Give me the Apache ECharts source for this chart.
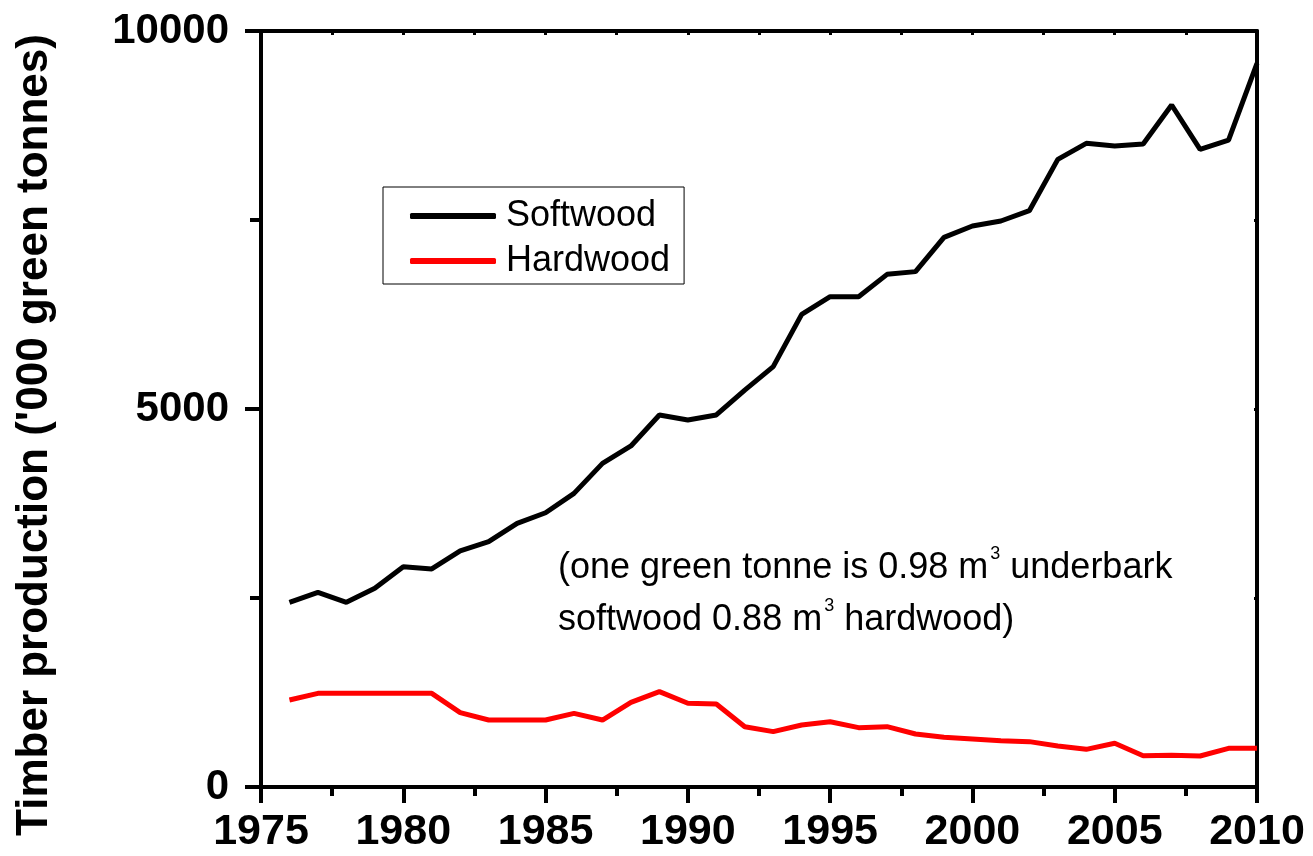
<!DOCTYPE html>
<html>
<head>
<meta charset="utf-8">
<script src="https://cdn.jsdelivr.net/npm/echarts@6/dist/echarts.min.js"></script>
<style>
html,body{margin:0;padding:0;background:#fff;}
#chart{width:1313px;height:856px;}
</style>
</head>
<body>
<div id="chart"></div>
<script>
var years = [1976,1977,1978,1979,1980,1981,1982,1983,1984,1985,1986,1987,1988,1989,1990,1991,1992,1993,1994,1995,1996,1997,1998,1999,2000,2001,2002,2003,2004,2005,2006,2007,2008,2009,2010];
var softwood = [2443,2575,2443,2628,2914,2884,3122,3245,3488,3628,3884,4281,4511,4921,4854,4921,5250,5560,6252,6486,6486,6781,6817,7271,7421,7487,7623,8302,8514,8479,8505,9021,8435,8558,9572];
var hardwood = [1151,1239,1239,1239,1239,1239,983,886,886,886,974,886,1120,1261,1107,1098,798,732,820,864,785,798,701,657,635,613,600,542,498,578,414,419,410,511,511];
var seriesNames = ['Softwood','Hardwood'];
var yTitle = "Timber production ('000 green tonnes)";
var noteLine1 = ['(one green tonne is 0.98 m','3',' underbark'];
var noteLine2 = ['softwood 0.88 m','3',' hardwood)'];

function pairs(v){ return years.map(function(y,i){ return [y, v[i]]; }); }
function plain(v){ return String(v); }

var FONT = 'Liberation Sans, Arial, Helvetica, sans-serif';
var chart = echarts.init(document.getElementById('chart'), null, {renderer:'canvas'});
var option = {
  backgroundColor: '#fff',
  animation: false,
  grid: {left: 261, right: 56, top: 31, bottom: 69, containLabel: false},
  xAxis: [{
    type: 'value', min: 1975, max: 2010, interval: 5, position: 'bottom',
    axisLine: {show: true, onZero: false, lineStyle: {color: '#000', width: 4}},
    axisTick: {show: true, inside: false, length: 16, lineStyle: {color: '#000', width: 4}},
    minorTick: {show: true, splitNumber: 2, length: 9, lineStyle: {color: '#000', width: 4}},
    splitLine: {show: false}, minorSplitLine: {show: false},
    axisLabel: {color: '#000', fontFamily: FONT, fontWeight: 'bold', fontSize: 43, margin: 24, formatter: plain}
  },{
    type: 'value', min: 1975, max: 2010, interval: 2.5, position: 'top',
    axisLine: {show: true, onZero: false, lineStyle: {color: '#000', width: 4}},
    axisTick: {show: true, inside: true, length: 4, lineStyle: {color: '#000', width: 3}},
    splitLine: {show: false}, axisLabel: {show: false}
  }],
  yAxis: [{
    type: 'value', min: 0, max: 10000, interval: 5000, position: 'left',
    axisLine: {show: true, onZero: false, lineStyle: {color: '#000', width: 4}},
    axisTick: {show: true, inside: false, length: 16, lineStyle: {color: '#000', width: 4}},
    minorTick: {show: true, splitNumber: 2, length: 11, lineStyle: {color: '#000', width: 4}},
    splitLine: {show: false}, minorSplitLine: {show: false},
    axisLabel: {color: '#000', fontFamily: FONT, fontWeight: 'bold', fontSize: 42, margin: 32, formatter: plain}
  },{
    type: 'value', min: 0, max: 10000, interval: 2500, position: 'right',
    axisLine: {show: true, onZero: false, lineStyle: {color: '#000', width: 4}},
    axisTick: {show: true, inside: true, length: 3, lineStyle: {color: '#000', width: 3}},
    splitLine: {show: false}, axisLabel: {show: false}
  }],
  legend: {
    orient: 'vertical', left: 383, top: 187,
    data: seriesNames,
    backgroundColor: '#fff', borderColor: '#000', borderWidth: 1, borderRadius: 0,
    padding: [9, 14, 3, 27],
    itemWidth: 86, itemHeight: 6, itemGap: 5,
    icon: 'roundRect',
    textStyle: {color: '#000', fontFamily: FONT, fontSize: 36, lineHeight: 40, padding: [0,0,0,5]}
  },
  series: [{
    name: seriesNames[0], type: 'line', data: pairs(softwood),
    symbol: 'none', showSymbol: false, color: '#000',
    lineStyle: {color: '#000', width: 5}, clip: false
  },{
    name: seriesNames[1], type: 'line', data: pairs(hardwood),
    symbol: 'none', showSymbol: false, color: '#ff0000',
    lineStyle: {color: '#ff0000', width: 5}, clip: false
  }],
  graphic: [{
    type: 'text', x: 35, y: 435, rotation: Math.PI/2,
    style: {text: yTitle, fill: '#000', font: 'bold 44px ' + FONT, align: 'center', verticalAlign: 'middle'}
  },{
    type: 'text', x: 558, y: 542,
    style: {
      text: noteLine1[0] + '{sup|' + noteLine1[1] + '}' + noteLine1[2] + '\n' + noteLine2[0] + '{sup|' + noteLine2[1] + '}' + noteLine2[2],
      fill: '#000', fontFamily: FONT, fontSize: 36, lineHeight: 52, align: 'left', verticalAlign: 'top',
      rich: {sup: {fontFamily: FONT, fontSize: 18, lineHeight: 18, verticalAlign: 'top', fill: '#000', padding: [3,0,0,2]}}
    }
  }]
};
chart.setOption(option);
</script>
</body>
</html>
